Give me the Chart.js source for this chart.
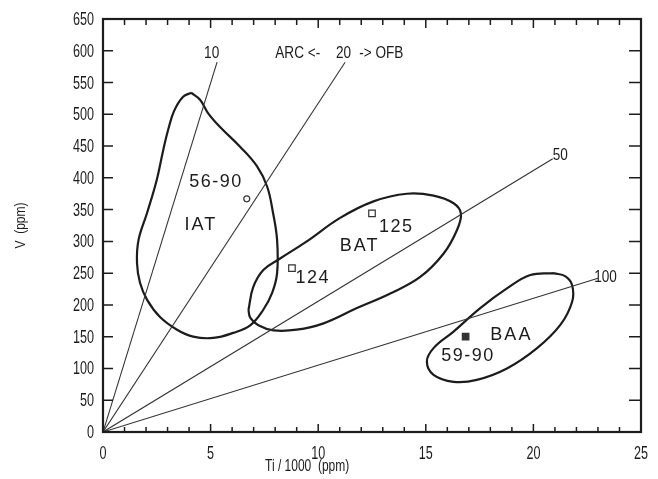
<!DOCTYPE html>
<html><head><meta charset="utf-8">
<script src="https://cdn.jsdelivr.net/npm/chart.js@4/dist/chart.umd.min.js"></script>
<style>html,body{margin:0;padding:0;background:#fff}#wrap{width:658px;height:479px;position:relative}</style>
</head><body><div id="wrap"><canvas id="c" width="658" height="479"></canvas></div>
<script>
// ---- data ----
const xTickValues = [0, 5, 10, 15, 20, 25];
const yTickValues = [0, 50, 100, 150, 200, 250, 300, 350, 400, 450, 500, 550, 600, 650];

// Ti/V reference lines from the origin (end points)
const ratioNames = ['10', '20', '50', '100'];
const ratioEndTi = [5.3, 11.25, 20.9, 23.0];
const ratioEndV = [582, 582, 430, 242];

// Field outlines (Ti/1000, V)
const iatTi = [4.09, 4.51, 4.88, 5.44, 6.37, 7.16, 7.63, 7.90, 8.09, 8.09, 7.86, 7.44, 6.84, 6.05, 5.12, 4.19, 3.44, 2.65, 2.05, 1.72, 1.58, 1.65, 2.05, 2.50, 2.80, 3.03, 3.30, 3.70, 4.09];
const iatV  = [534, 523, 502, 480, 449, 418, 386, 345, 302, 250, 219, 192, 168, 156, 148, 150, 161, 181, 208, 235, 266, 302, 345, 397, 444, 476, 505, 527, 534];

const batTi = [6.76, 6.98, 7.45, 8.23, 9.47, 11.02, 12.57, 14.12, 15.36, 16.29, 16.63, 16.45, 15.83, 14.74, 13.35, 11.80, 10.25, 9.00, 7.92, 7.22, 6.84, 6.76];
const batV  = [192, 228, 255, 273, 300, 337, 363, 375, 372, 360, 344, 318, 281, 244, 218, 195, 171, 161, 160, 168, 180, 192];

const baaTi = [20.94, 19.86, 18.77, 17.53, 16.29, 15.36, 15.05, 15.36, 16.29, 17.37, 18.77, 20.17, 21.26, 21.80, 21.80, 21.49, 20.94];
const baaV  = [250, 247, 226, 195, 158, 132, 111, 90, 79, 82, 100, 132, 169, 205, 231, 245, 250];

// Samples
const sampleNames = ['56-90', '125', '124', '59-90'];
const sampleTi = [6.68, 12.5, 8.78, 16.85];
const sampleV = [367, 344, 258, 150];

// Text annotations (data coordinates)
const fieldNames = ['IAT', 'BAT', 'BAA'];
const fieldTi = [4.5, 11.88, 18.93];
const fieldV = [326, 292, 153];
const sampleLabelTi = [5.2, 13.58, 9.7, 16.91];
const sampleLabelV = [394, 323, 242, 119];
const topLabelTexts = ['10', 'ARC <-', '20', '-> OFB', '50', '100'];
const topLabelTi = [5.05, 9.05, 11.18, 12.93, 21.25, 23.35];
const topLabelV = [596, 596, 596, 596, 436, 243];

// ---- build ----
const INK = '#1c1c1c';
const SANS = "'Liberation Sans', Arial, sans-serif";

const pts = (xs, ys) => xs.map((x, i) => ({x, y: ys[i]}));

const datasets = [];
ratioNames.forEach((n, i) => {
  datasets.push({label: 'Ti/V ' + n, data: [{x: 0, y: 0}, {x: ratioEndTi[i], y: ratioEndV[i]}],
    showLine: true, borderColor: '#333', borderWidth: 1.1, pointRadius: 0, tension: 0});
});
[['IAT', iatTi, iatV], ['BAT', batTi, batV], ['BAA', baaTi, baaV]].forEach(([n, xs, ys]) => {
  datasets.push({label: n, data: pts(xs, ys), showLine: true, borderColor: INK, borderWidth: 2.2,
    pointRadius: 0, tension: 0.4, fill: false});
});
const styles = [
  {pointStyle: 'circle', radius: 3, bg: '#fff'},
  {pointStyle: 'rect', radius: 4.6, bg: '#fff'},
  {pointStyle: 'rect', radius: 4.6, bg: '#fff'},
  {pointStyle: 'rect', radius: 4.6, bg: '#333'}
];
sampleNames.forEach((n, i) => {
  datasets.push({label: n, data: [{x: sampleTi[i], y: sampleV[i]}], showLine: false,
    pointStyle: styles[i].pointStyle, pointRadius: styles[i].radius, pointBackgroundColor: styles[i].bg,
    pointBorderColor: '#333', pointBorderWidth: 1.2});
});

function narrow(ctx, text, px, py, size, sx, align) {
  ctx.save();
  ctx.translate(px, py);
  ctx.scale(sx, 1);
  ctx.font = size + 'px ' + SANS;
  ctx.textAlign = align;
  ctx.textBaseline = 'middle';
  ctx.fillText(text, 0, 0);
  ctx.restore();
}

const decor = {
  id: 'decor',
  afterDatasetsDraw(chart) {
    const {ctx, chartArea: a, scales: {x, y}} = chart;
    ctx.save();
    ctx.strokeStyle = INK;
    // ticks
    ctx.lineWidth = 1.5;
    ctx.beginPath();
    for (let v = 0; v <= 25; v++) {
      const px = x.getPixelForValue(v);
      const major = v % 5 === 0;
      ctx.moveTo(px, a.bottom); ctx.lineTo(px, a.bottom - (major ? 8 : 5));
      ctx.moveTo(px, a.top); ctx.lineTo(px, a.top + (major ? 9 : 6));
    }
    yTickValues.forEach(v => {
      const py = y.getPixelForValue(v);
      ctx.moveTo(a.left, py); ctx.lineTo(a.left + 10, py);
      ctx.moveTo(a.right, py); ctx.lineTo(a.right - 12, py);
    });
    ctx.stroke();
    // frame
    ctx.lineWidth = 2.2;
    ctx.strokeRect(a.left, a.top, a.right - a.left, a.bottom - a.top);

    ctx.fillStyle = INK;
    // tick labels
    xTickValues.forEach(v => narrow(ctx, String(v), x.getPixelForValue(v), a.bottom + 22, 18, 0.7, 'center'));
    yTickValues.forEach(v => narrow(ctx, String(v), a.left - 9, y.getPixelForValue(v) + 1, 18, 0.7, 'right'));

    // field labels
    ctx.textAlign = 'center';
    ctx.textBaseline = 'middle';
    ctx.font = '18px ' + SANS;
    ctx.letterSpacing = '2px';
    fieldNames.forEach((t, i) => ctx.fillText(t, x.getPixelForValue(fieldTi[i]) + 1, y.getPixelForValue(fieldV[i])));
    ctx.letterSpacing = '1.5px';
    sampleNames.forEach((t, i) => ctx.fillText(t, x.getPixelForValue(sampleLabelTi[i]) + 1, y.getPixelForValue(sampleLabelV[i])));
    ctx.letterSpacing = '0px';
    // line labels
    topLabelTexts.forEach((t, i) => narrow(ctx, t, x.getPixelForValue(topLabelTi[i]), y.getPixelForValue(topLabelV[i]), 17, 0.8, 'center'));
    // axis titles
    narrow(ctx, 'Ti / 1000  (ppm)', a.left + 162, a.bottom + 35, 16, 0.75, 'left');
    ctx.save();
    ctx.translate(21, (a.top + a.bottom) / 2);
    ctx.rotate(-Math.PI / 2);
    narrow(ctx, 'V  (ppm)', 0, 0, 15, 0.8, 'center');
    ctx.restore();
    ctx.restore();
  }
};

new Chart(document.getElementById('c'), {
  type: 'scatter',
  data: {datasets},
  plugins: [decor],
  options: {
    responsive: false,
    animation: false,
    events: [],
    layout: {padding: {top: 19, right: 17, left: 0, bottom: 0}},
    plugins: {legend: {display: false}, tooltip: {enabled: false}},
    scales: {
      x: {
        type: 'linear', min: 0, max: 25,
        afterFit: s => { s.height = 47; },
        afterBuildTicks: s => { s.ticks = xTickValues.map(v => ({value: v})); },
        grid: {display: false, drawTicks: false},
        border: {display: false},
        ticks: {display: false}
      },
      y: {
        type: 'linear', min: 0, max: 650,
        afterFit: s => { s.width = 103; },
        afterBuildTicks: s => { s.ticks = yTickValues.map(v => ({value: v})); },
        grid: {display: false, drawTicks: false},
        border: {display: false},
        ticks: {display: false}
      }
    }
  }
});
</script>
</body></html>
